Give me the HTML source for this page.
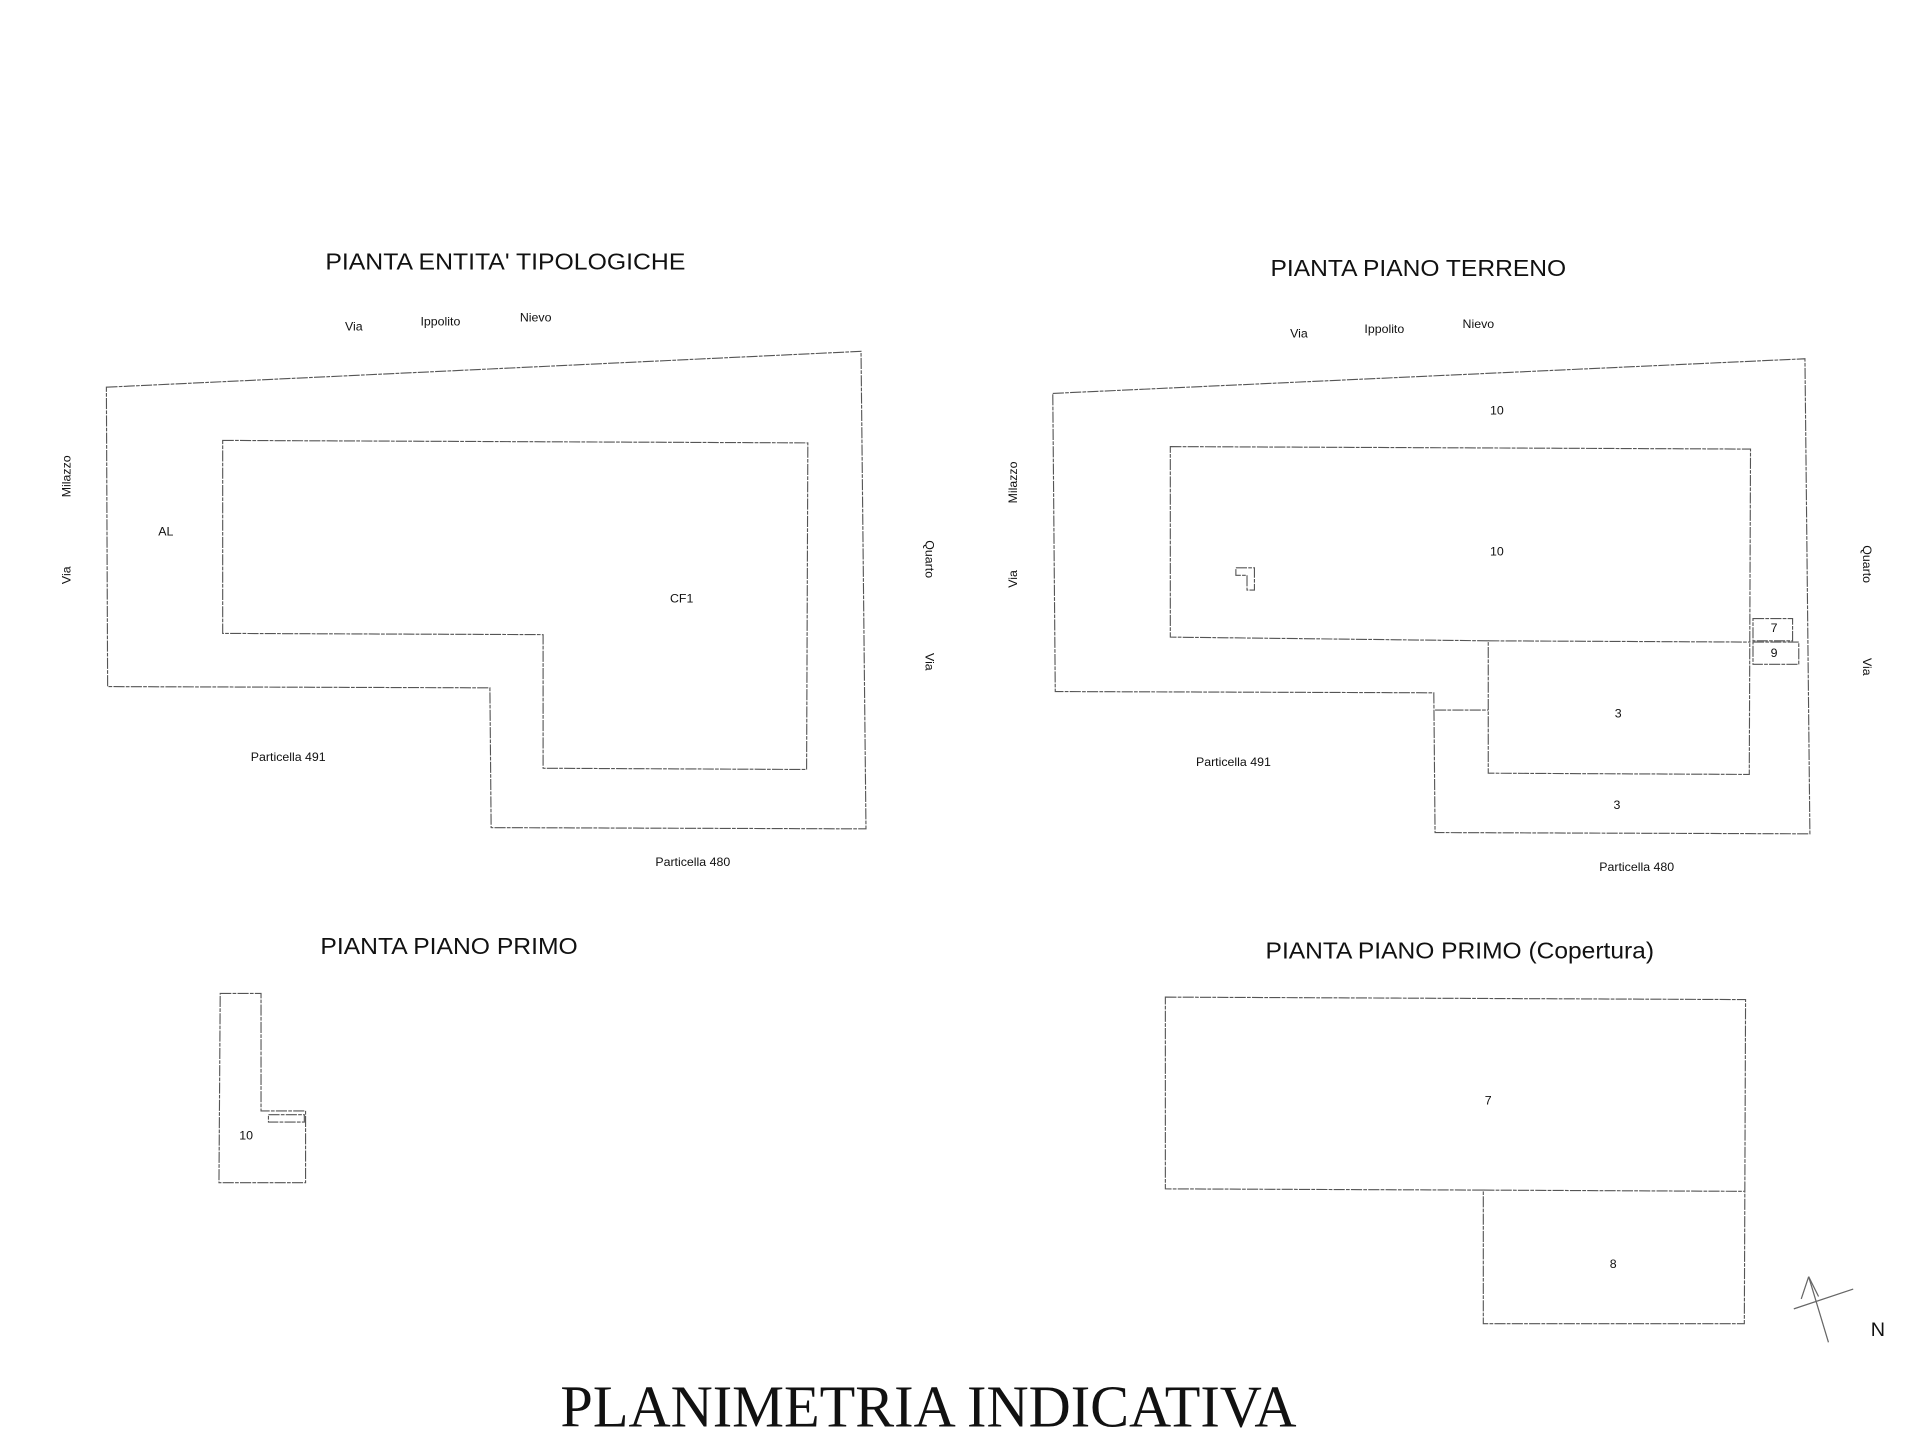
<!DOCTYPE html>
<html><head><meta charset="utf-8"><style>
html,body{margin:0;padding:0;background:#fff;width:1920px;height:1440px;overflow:hidden}
svg{display:block}
text{font-family:"Liberation Sans",sans-serif;fill:#111}
.l{fill:none;stroke:#555;stroke-width:0.9;stroke-dasharray:9 1 3 1}
</style></head><body>
<svg width="1920" height="1440" viewBox="0 0 1552 1164" xmlns="http://www.w3.org/2000/svg">
<text x="263" y="218" font-size="19" textLength="291" lengthAdjust="spacingAndGlyphs">PIANTA ENTITA' TIPOLOGICHE</text>
<text x="1027" y="223" font-size="19" textLength="239" lengthAdjust="spacingAndGlyphs">PIANTA PIANO TERRENO</text>
<text x="259" y="771" font-size="19" textLength="208" lengthAdjust="spacingAndGlyphs">PIANTA PIANO PRIMO</text>
<text x="1023" y="775" font-size="19" textLength="314" lengthAdjust="spacingAndGlyphs">PIANTA PIANO PRIMO (Copertura)</text>
<text x="453" y="1153" font-size="48" textLength="595" lengthAdjust="spacingAndGlyphs" style="font-family:'Liberation Serif',serif">PLANIMETRIA INDICATIVA</text>

<!-- top-left -->
<text x="286" y="267" font-size="10" text-anchor="middle">Via</text>
<text x="356" y="263" font-size="10" text-anchor="middle">Ippolito</text>
<text x="433" y="260" font-size="10" text-anchor="middle">Nievo</text>
<text transform="translate(57,385) rotate(-90)" font-size="10" text-anchor="middle">Milazzo</text>
<text transform="translate(57,465) rotate(-90)" font-size="10" text-anchor="middle">Via</text>
<text transform="translate(748,452) rotate(90)" font-size="10" text-anchor="middle">Quarto</text>
<text transform="translate(748,535) rotate(90)" font-size="10" text-anchor="middle">Via</text>
<polygon class="l" points="86,313 696,284 700,670 397,669 396,556 87,555"/>
<polygon class="l" points="180,356 653,358 652,622 439,621 439,513 180,512"/>
<text x="134" y="433" font-size="10" text-anchor="middle">AL</text>
<text x="551" y="487" font-size="10" text-anchor="middle">CF1</text>
<text x="233" y="615" font-size="10" text-anchor="middle">Particella 491</text>
<text x="560" y="700" font-size="10" text-anchor="middle">Particella 480</text>

<!-- top-right -->
<text x="1050" y="273" font-size="10" text-anchor="middle">Via</text>
<text x="1119" y="269" font-size="10" text-anchor="middle">Ippolito</text>
<text x="1195" y="265" font-size="10" text-anchor="middle">Nievo</text>
<text transform="translate(822,390) rotate(-90)" font-size="10" text-anchor="middle">Milazzo</text>
<text transform="translate(822,468) rotate(-90)" font-size="10" text-anchor="middle">Via</text>
<text transform="translate(1506,456) rotate(90)" font-size="10" text-anchor="middle">Quarto</text>
<text transform="translate(1506,539) rotate(90)" font-size="10" text-anchor="middle">Via</text>
<polygon class="l" points="851,318 1459,290 1463,674 1160,673 1159,560 853,559"/>
<polygon class="l" points="946,361 1415,363 1414,626 1203,625 1203,518 946,515"/>
<line class="l" x1="1203" y1="518" x2="1415" y2="519"/>
<line class="l" x1="1160" y1="574" x2="1203" y2="574"/>
<rect class="l" x="1417" y="500" width="32" height="18"/>
<rect class="l" x="1417" y="519" width="37" height="18"/>
<text x="1434" y="511" font-size="10" text-anchor="middle">7</text>
<text x="1434" y="531" font-size="10" text-anchor="middle">9</text>
<path class="l" d="M999,459 h15 v18 h-6 v-12 h-9 z"/>
<text x="1210" y="335" font-size="10" text-anchor="middle">10</text>
<text x="1210" y="449" font-size="10" text-anchor="middle">10</text>
<text x="1308" y="580" font-size="10" text-anchor="middle">3</text>
<text x="1307" y="654" font-size="10" text-anchor="middle">3</text>
<text x="997" y="619" font-size="10" text-anchor="middle">Particella 491</text>
<text x="1323" y="704" font-size="10" text-anchor="middle">Particella 480</text>

<!-- bottom-left -->
<polygon class="l" points="178,803 211,803 211,898 247,898 247,956 177,956"/>
<rect class="l" x="217" y="901" width="29" height="6"/>
<text x="199" y="921" font-size="10" text-anchor="middle">10</text>

<!-- bottom-right -->
<polygon class="l" points="942,806 1411,808 1410,1070 1199,1070 1199,962 942,961"/>
<line class="l" x1="1199" y1="962" x2="1410" y2="963"/>
<text x="1203" y="893" font-size="10" text-anchor="middle">7</text>
<text x="1304" y="1025" font-size="10" text-anchor="middle">8</text>

<!-- north arrow -->
<g stroke="#666" stroke-width="1" fill="none">
<line x1="1462" y1="1032" x2="1478" y2="1085"/>
<line x1="1450" y1="1058" x2="1498" y2="1042"/>
<line x1="1462" y1="1032" x2="1456" y2="1050"/>
<line x1="1462" y1="1032" x2="1470" y2="1048"/>
</g>
<text x="1518" y="1080" font-size="16" text-anchor="middle" fill="#666">N</text>
</svg>
</body></html>
